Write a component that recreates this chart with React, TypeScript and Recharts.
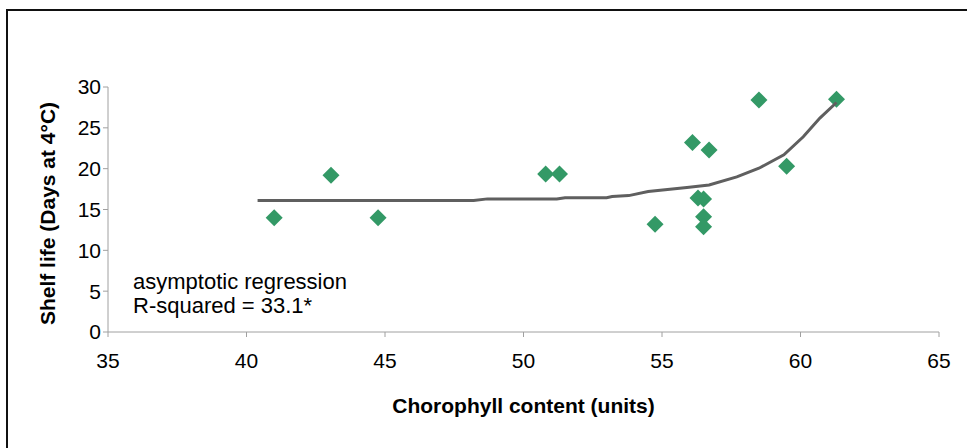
import React from "react";
import { ComposedChart, Scatter, XAxis, YAxis, Label, Customized } from "recharts";

const chlorophyll: number[] = [41.0, 43.05, 44.75, 50.8, 51.3, 54.75, 56.1, 56.3, 56.5, 56.5, 56.5, 56.7, 58.5, 59.5, 61.3];
const shelfLife: number[] = [14.0, 19.2, 14.0, 19.35, 19.35, 13.2, 23.2, 16.4, 16.3, 14.1, 12.9, 22.3, 28.4, 20.3, 28.5];

const curveX: number[] = [40.4, 48.2, 48.7, 51.2, 51.5, 53.0, 53.2, 53.8, 54.5, 55.9, 56.7, 57.7, 58.5, 59.4, 60.1, 60.7, 61.3];
const curveY: number[] = [16.1, 16.1, 16.3, 16.3, 16.45, 16.45, 16.6, 16.7, 17.2, 17.7, 18.0, 19.0, 20.05, 21.7, 23.9, 26.2, 28.1];

const xTicks: number[] = [35, 40, 45, 50, 55, 60, 65];
const yTicks: number[] = [0, 5, 10, 15, 20, 25, 30];

const xTitle = "Chorophyll content (units)";
const yTitle = "Shelf life (Days at 4°C)";
const noteLines: string[] = ["asymptotic regression", "R-squared = 33.1*"];

const points = chlorophyll.map((x, i) => ({ x, y: shelfLife[i] }));
const curve = curveX.map((x, i) => ({ x, y: curveY[i] }));

const FONT = "'Liberation Sans', Arial, sans-serif";

const Diamond = (props: any) => {
  const { cx, cy } = props;
  if (cx == null || cy == null) return null;
  const r = 8.5;
  return (
    <polygon
      points={`${cx},${cy - r} ${cx + r},${cy} ${cx},${cy + r} ${cx - r},${cy}`}
      fill="#339966"
    />
  );
};

const NoShape = () => null;

const Note = () => (
  <g>
    <text x={133} y={289} fontFamily={FONT} fontSize={22} fill="#000">
      {noteLines[0]}
    </text>
    <text x={133} y={313} fontFamily={FONT} fontSize={22} fill="#000">
      {noteLines[1]}
    </text>
  </g>
);

export default function App() {
  return (
    <div style={{ position: "fixed", left: 0, top: 0, width: 967, height: 448, overflow: "hidden", background: "#fff" }}>
      <div
        style={{
          position: "absolute",
          left: 6,
          top: 9,
          width: 1100,
          height: 1000,
          border: "2px solid #111",
          boxSizing: "border-box",
        }}
      />
      <div style={{ position: "absolute", left: 0, top: 0 }}>
        <ComposedChart
          width={967}
          height={448}
          margin={{ top: 87, right: 28, bottom: 16, left: 0 }}
        >
          <XAxis
            type="number"
            dataKey="x"
            domain={[35, 65]}
            ticks={xTicks}
            allowDataOverflow
            height={100}
            stroke="#a0a0a0"
            tickSize={5}
            tickMargin={16}
            tick={{ fill: "#000", fontSize: 21, fontFamily: FONT }}
          >
            <Label
              content={({ viewBox }: any) => (
                <text
                  x={viewBox.x + viewBox.width / 2}
                  y={viewBox.y + 81}
                  textAnchor="middle"
                  fontFamily={FONT}
                  fontSize={21}
                  fontWeight="bold"
                  fill="#000"
                >
                  {xTitle}
                </text>
              )}
            />
          </XAxis>
          <YAxis
            type="number"
            dataKey="y"
            domain={[0, 30]}
            ticks={yTicks}
            allowDataOverflow
            width={108}
            stroke="#a0a0a0"
            tickSize={5}
            tickMargin={2}
            tick={{ fill: "#000", fontSize: 21, fontFamily: FONT }}
          >
            <Label
              content={({ viewBox }: any) => {
                const cx = 55;
                const cy = viewBox.y + viewBox.height / 2 + 4;
                return (
                  <text
                    x={cx}
                    y={cy}
                    transform={`rotate(-90 ${cx} ${cy})`}
                    textAnchor="middle"
                    fontFamily={FONT}
                    fontSize={21}
                    fontWeight="bold"
                    fill="#000"
                  >
                    {yTitle}
                  </text>
                );
              }}
            />
          </YAxis>
          <Scatter data={points} shape={Diamond} isAnimationActive={false} />
          <Scatter
            data={curve}
            shape={NoShape}
            line={{ stroke: "#5f5f5f", strokeWidth: 3 }}
            lineType="joint"
            isAnimationActive={false}
          />
          <Customized component={Note} />
        </ComposedChart>
      </div>
    </div>
  );
}
